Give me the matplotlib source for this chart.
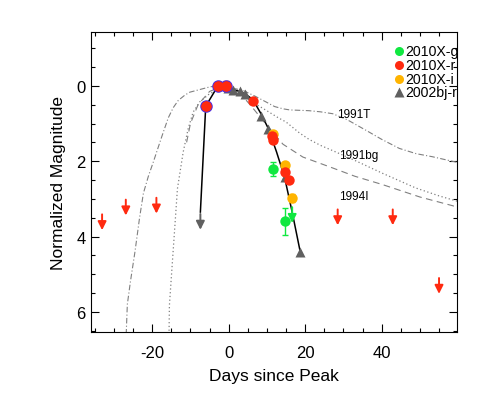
import matplotlib
matplotlib.use("Agg")
import matplotlib.pyplot as plt
from matplotlib.ticker import MultipleLocator

plt.rcParams['font.family'] = ['Liberation Sans', 'DejaVu Sans']
plt.rcParams['axes.unicode_minus'] = False

# ---- data ----
# template light curves
t91T_days = [-26.8, -26.5, -25.7, -24.5, -23.3, -22.3, -21.0, -19.7, -17.5, -15.8, -14.5, -13.2,
             -11.5, -10.2, -7.6, -5.0, -3.2, 0.0, 3.7, 7.0, 9.8, 12.0, 14.2, 16.0, 18.5, 21.0,
             24.0, 27.2, 31.0, 35.9, 40.0, 44.6, 49.0, 53.2, 59.7]
t91T_mag = [6.6, 5.8, 5.2, 4.4, 3.5, 2.85, 2.4, 2.02, 1.35, 0.85, 0.58, 0.39,
            0.25, 0.17, 0.1, 0.03, 0.0, 0.04, 0.12, 0.28, 0.43, 0.55, 0.61, 0.64, 0.65, 0.66,
            0.69, 0.74, 0.9, 1.18, 1.42, 1.66, 1.8, 1.88, 2.03]

t91bg_days = [-15.6, -15.5, -14.9, -14.0, -13.4, -11.9, -10.6, -9.3, -7.6, -5.0, -2.0, 0.0,
              3.0, 6.0, 9.8, 13.0, 15.0, 18.5, 21.0, 24.0, 27.2, 33.0, 40.2, 48.9, 55.0, 59.7]
t91bg_mag = [6.6, 5.83, 4.94, 3.62, 2.73, 1.76, 1.14, 0.7, 0.43, 0.21, 0.06, 0.05,
             0.2, 0.42, 0.65, 0.85, 0.96, 1.25, 1.42, 1.58, 1.72, 1.98, 2.32, 2.71, 2.92, 3.06]

t94I_days = [-11.0, -10.0, -8.0, -5.0, -2.0, 0.0, 3.0, 6.0, 10.0, 14.2, 19.4, 22.9, 27.2,
             33.0, 40.2, 50.0, 58.5, 59.7]
t94I_mag = [1.5, 1.0, 0.5, 0.15, 0.02, 0.0, 0.2, 0.55, 1.05, 1.55, 1.89, 2.02, 2.18,
            2.4, 2.62, 2.95, 3.18, 3.22]

# 2010X photometry
r_days = [-6.0, -2.8, -0.6, 6.3, 11.4, 11.5, 14.6, 15.7]
r_mag = [0.54, 0.0, 0.0, 0.39, 1.32, 1.45, 2.29, 2.51]
r_err = [0.05, 0.05, 0.12, 0.05, 0.05, 0.05, 0.05, 0.05]
r_blue_days = [-6.0, -2.8, -0.6]
r_blue_mag = [0.54, 0.0, 0.0]

i_days = [11.6, 14.6, 16.6]
i_mag = [1.27, 2.11, 2.97]
i_err = [0.05, 0.05, 0.1]

g_days = [11.6, 14.6]
g_mag = [2.2, 3.6]
g_err = [0.18, 0.35]
g_lim_days = [16.6]
g_lim_mag = [3.22]

# 2002bj r-band
bj_days = [-0.2, 1.1, 2.9, 4.2, 8.5, 10.4, 14.6, 18.7]
bj_mag = [0.07, 0.1, 0.15, 0.21, 0.79, 1.14, 2.42, 4.4]
bj_lim_days = [-7.4]
bj_lim_mag = [3.4]

# connecting line
line_days = [-7.4, -6.0, -2.8, -0.6, 1.1, 2.9, 4.2, 6.3, 8.5, 10.4, 12.5, 14.6, 16.6, 18.7]
line_mag = [3.35, 0.54, 0.0, 0.02, 0.1, 0.15, 0.21, 0.36, 0.75, 1.14, 1.75, 2.42, 3.35, 4.4]

# upper limits (red arrows)
lim_days = [-33.1, -26.9, -18.9, 28.5, 42.9, 55.0]
lim_mag = [3.41, 3.02, 2.97, 3.28, 3.28, 5.1]

# template labels
tpl_names = ['1991T', '1991bg', '1994I']
tpl_lab_x = [28.4, 28.8, 28.8]
tpl_lab_y = [0.74, 1.84, 2.92]

# legend entries
leg_labels = ['2010X-g', '2010X-r', '2010X-i', '2002bj-r']

# ---- plot ----
fig = plt.figure(figsize=(4.85, 4.02), dpi=100)
ax = fig.add_axes([91/485, 1-333.3/402, (457-91)/485, (333.3-33.3)/402])

gray = '#808080'
ax.plot(t91T_days, t91T_mag, color=gray, lw=0.8, ls=(0, (5, 2, 1, 2)))
ax.plot(t91bg_days, t91bg_mag, color=gray, lw=0.9, ls=(0, (1, 2)))
ax.plot(t94I_days, t94I_mag, color=gray, lw=0.8, ls=(0, (6, 4)))
for n, x, y in zip(tpl_names, tpl_lab_x, tpl_lab_y):
    ax.text(x, y, n, fontsize=8.5, va='center', ha='left')

ax.plot(line_days, line_mag, color='black', lw=1.1, zorder=3)

red = '#ff2a10'
green = '#10e840'
orange = '#ffb400'
tri = '#606060'
leg_colors = [green, red, orange, tri]
leg_markers = ['o', 'o', 'o', '^']

ax.plot(bj_days, bj_mag, '^', color=tri, ms=7.5, mec='none', zorder=4)
ax.errorbar(i_days, i_mag, yerr=i_err, fmt='o', color=orange, ms=7.5, mec='none', ecolor=orange,
            capsize=2, elinewidth=1, zorder=5)
ax.errorbar(r_days, r_mag, yerr=r_err, fmt='o', color=red, ms=7.5, mec='none', ecolor=red,
            capsize=2, elinewidth=1, zorder=6)
ax.plot(r_blue_days, r_blue_mag, 'o', ms=8, mfc=red, mec='#5030e0', mew=1.0, zorder=6)
ax.errorbar(g_days, g_mag, yerr=g_err, fmt='o', color=green, ms=7.5, mec='none', ecolor=green,
            capsize=2, elinewidth=1, zorder=5)

def arrow(x, y, c, length=0.42):
    ax.annotate('', xy=(x, y + length), xytext=(x, y),
                arrowprops=dict(arrowstyle='-|>,head_length=0.5,head_width=0.25',
                                color=c, lw=1.4, shrinkA=0, shrinkB=0), zorder=7)

for x, y in zip(lim_days, lim_mag):
    arrow(x, y, red)
for x, y in zip(g_lim_days, g_lim_mag):
    arrow(x, y, green)
for x, y in zip(bj_lim_days, bj_lim_mag):
    arrow(x, y, tri)

# manual legend (axes fraction coordinates)
for k, (lab, c, m) in enumerate(zip(leg_labels, leg_colors, leg_markers)):
    py = 52 + 13.8 * k
    yf = 1 - (py - 33.3) / 300
    ax.plot([(399 - 91) / 366], [yf], m, color=c, mec='none', ms=6.5,
            transform=ax.transAxes, clip_on=False)
    ax.text((405 - 91) / 366, yf, lab, transform=ax.transAxes, fontsize=10.2,
            va='center', ha='left')

ax.set_xlim(-36, 59.7)
ax.set_ylim(6.54, -1.42)
ax.xaxis.set_major_locator(MultipleLocator(20))
ax.xaxis.set_minor_locator(MultipleLocator(5))
ax.yaxis.set_major_locator(MultipleLocator(2))
ax.yaxis.set_minor_locator(MultipleLocator(0.5))
ax.tick_params(which='both', direction='in', top=True, right=True, labelsize=12)
ax.tick_params(axis='x', which='major', pad=9)
ax.tick_params(axis='y', which='major', pad=4)
ax.tick_params(which='major', length=6, width=0.8)
ax.tick_params(which='minor', length=3, width=0.8)
for s in ax.spines.values():
    s.set_linewidth(0.8)

ax.set_xlabel('Days since Peak', fontsize=12.5, labelpad=6)
ax.set_ylabel('Normalized Magnitude', fontsize=12.5, labelpad=7)

fig.savefig('out.png', dpi=100)
